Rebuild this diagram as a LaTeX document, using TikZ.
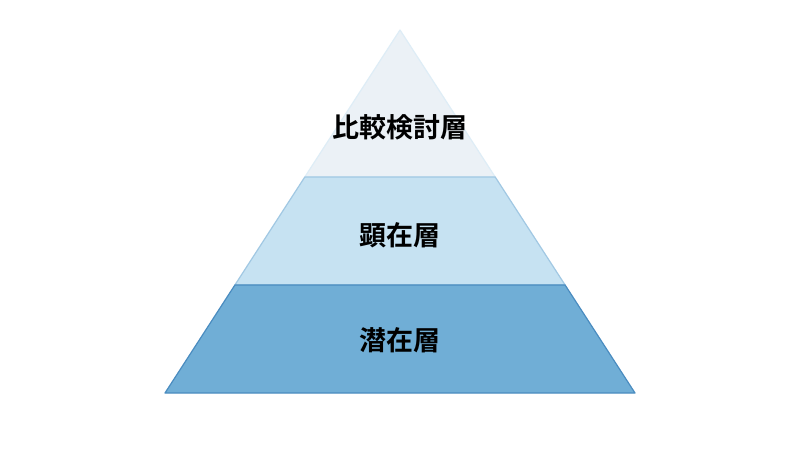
\documentclass[tikz,border=0pt]{standalone}
\usepackage{fontspec}
\newfontfamily\cjk{Noto Sans CJK JP Bold}
\definecolor{topfill}{HTML}{EBF1F6}
\definecolor{midfill}{HTML}{C6E2F2}
\definecolor{lowfill}{HTML}{70AED6}
\definecolor{edgeblue}{HTML}{4A8CC0}
\begin{document}
\begin{tikzpicture}[x=1pt,y=-1pt,
  layer/.style={line width=1.2pt,line join=round},
  label/.style={font=\cjk\fontsize{27}{30}\selectfont,text=black}]
  \useasboundingbox[fill=white] (0,0) rectangle (800,450);
  \coordinate (apex) at (400,30);
  \coordinate (tl) at (304.8,177);
  \coordinate (tr) at (495.2,177);
  \coordinate (ml) at (234.9,285);
  \coordinate (mr) at (565.1,285);
  \coordinate (bl) at (165,393);
  \coordinate (br) at (635,393);

  \filldraw[layer,fill=topfill,draw=midfill!80!edgeblue!40] (apex) -- (tr) -- (tl) -- cycle;
  \filldraw[layer,fill=midfill,draw=midfill!70!edgeblue] (tl) -- (tr) -- (mr) -- (ml) -- cycle;
  \filldraw[layer,fill=lowfill,draw=edgeblue] (ml) -- (mr) -- (br) -- (bl) -- cycle;

  \node[label] (top) at (400,127) {比較検討層};
  \node[label] (mid) at (400,235) {顕在層};
  \node[label] (low) at (400,340) {潜在層};
\end{tikzpicture}
\end{document}
